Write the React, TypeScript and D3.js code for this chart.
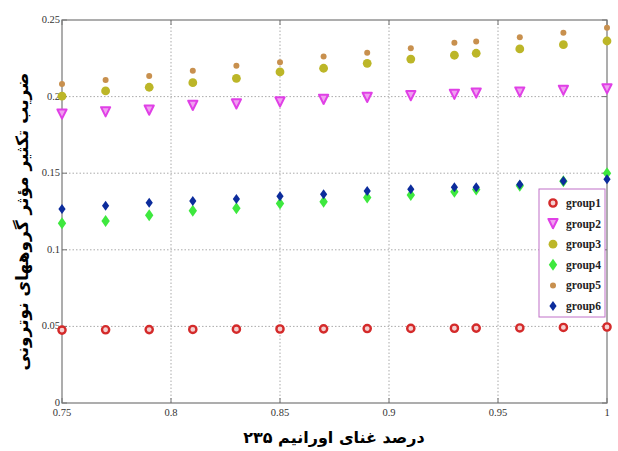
import React from "react";
import * as d3 from "d3";

const xValues = [0.75, 0.77, 0.79, 0.81, 0.83, 0.85, 0.87, 0.89, 0.91, 0.93, 0.94, 0.96, 0.98, 1.0];
const group1 = [0.0476, 0.0478, 0.0479, 0.048, 0.0482, 0.0483, 0.0484, 0.0486, 0.0487, 0.0488, 0.0489, 0.049, 0.0493, 0.0496];
const group2 = [0.1886, 0.1901, 0.1912, 0.1943, 0.1952, 0.1965, 0.1982, 0.1995, 0.2006, 0.2015, 0.2023, 0.203, 0.2041, 0.2051];
const group3 = [0.2003, 0.2037, 0.2061, 0.2091, 0.2119, 0.2161, 0.2185, 0.2217, 0.2245, 0.227, 0.2283, 0.2311, 0.2339, 0.2363];
const group4 = [0.1173, 0.1188, 0.1226, 0.1255, 0.1271, 0.1303, 0.1314, 0.1342, 0.1358, 0.1379, 0.1393, 0.1418, 0.1447, 0.1499];
const group5 = [0.2082, 0.2108, 0.2134, 0.2169, 0.2202, 0.2224, 0.2261, 0.2287, 0.2315, 0.2352, 0.2359, 0.2387, 0.2417, 0.245];
const group6 = [0.1266, 0.1288, 0.1307, 0.1318, 0.1331, 0.1349, 0.1362, 0.1384, 0.1395, 0.1408, 0.1408, 0.1427, 0.1449, 0.146];
const seriesNames = ["group1", "group2", "group3", "group4", "group5", "group6"];
const xTicks = [0.75, 0.8, 0.85, 0.9, 0.95, 1];
const yTicks = [0, 0.05, 0.1, 0.15, 0.2, 0.25];
const xTickLabels = ["0.75", "0.8", "0.85", "0.9", "0.95", "1"];
const yTickLabels = ["0", "0.05", "0.1", "0.15", "0.2", "0.25"];
const xTitle = "درصد غنای اورانیم ۲۳۵";
const yTitle = "ضریب تکثیر مؤثر گروههای نوترونی";

const W = 618, H = 451;
const left = 62, right = 607, top = 20, bottom = 403;

type Kind = "ring" | "tri" | "dot" | "diamond" | "small" | "sdiamond";
const styles: { kind: Kind; color: string }[] = [
  { kind: "ring", color: "#d42a2a" },
  { kind: "tri", color: "#e040e6" },
  { kind: "dot", color: "#bcb628" },
  { kind: "diamond", color: "#3ee83e" },
  { kind: "small", color: "#c8904e" },
  { kind: "sdiamond", color: "#0c2c9c" },
];

function Marker({ x, y, kind, color }: { x: number; y: number; kind: Kind; color: string }) {
  switch (kind) {
    case "ring":
      return <circle cx={x} cy={y} r={3.6} fill="#f4d0d0" stroke={color} strokeWidth={2.4} />;
    case "tri":
      return <path d={`M${x - 4.6},${y - 4.6} L${x + 4.6},${y - 4.6} L${x},${y + 4.6} Z`} fill="#f0a0f0" stroke={color} strokeWidth={2} strokeLinejoin="round" />;
    case "dot":
      return <circle cx={x} cy={y} r={4.4} fill={color} />;
    case "diamond":
      return <path d={`M${x},${y - 6} L${x + 4.2},${y} L${x},${y + 6} L${x - 4.2},${y} Z`} fill={color} />;
    case "small":
      return <circle cx={x} cy={y} r={3} fill={color} />;
    case "sdiamond":
      return <path d={`M${x},${y - 5} L${x + 3.6},${y} L${x},${y + 5} L${x - 3.6},${y} Z`} fill={color} />;
  }
}

export default function App() {
  const x = d3.scaleLinear().domain([0.75, 1]).range([left, right]);
  const y = d3.scaleLinear().domain([0, 0.25]).range([bottom, top]);
  const data = [group1, group2, group3, group4, group5, group6];
  const drawOrder = [0, 1, 3, 5, 2, 4];
  const legX = 539, legY = 189, legW = 66, legH = 128;
  return (
    <svg width={W} height={H} style={{ position: "absolute", left: 0, top: 0, background: "#fff" }}>
      <rect x={0} y={0} width={W} height={H} fill="#fff" />
      {xTicks.map((t, i) =>
        i > 0 && i < xTicks.length - 1 ? (
          <line key={"gx" + i} x1={x(t)} x2={x(t)} y1={top} y2={bottom} stroke="#aaa" strokeWidth={1} strokeDasharray="1.5,2" />
        ) : null
      )}
      {yTicks.map((t, i) =>
        i > 0 && i < yTicks.length - 1 ? (
          <line key={"gy" + i} x1={left} x2={right} y1={y(t)} y2={y(t)} stroke="#aaa" strokeWidth={1} strokeDasharray="1.5,2" />
        ) : null
      )}
      <rect x={left} y={top} width={right - left} height={bottom - top} fill="none" stroke="#777" strokeWidth={1.2} />
      {xTicks.map((t, i) => (
        <g key={"xt" + i}>
          <line x1={x(t)} x2={x(t)} y1={bottom} y2={bottom - 5} stroke="#777" />
          <line x1={x(t)} x2={x(t)} y1={top} y2={top + 5} stroke="#777" />
          <text x={x(t)} y={bottom + 13} textAnchor="middle" fontFamily="Liberation Serif, serif" fontSize={10.5} fill="#333">
            {xTickLabels[i]}
          </text>
        </g>
      ))}
      {yTicks.map((t, i) => (
        <g key={"yt" + i}>
          <line x1={left} x2={left + 5} y1={y(t)} y2={y(t)} stroke="#777" />
          <line x1={right} x2={right - 5} y1={y(t)} y2={y(t)} stroke="#777" />
          <text x={left - 2} y={y(t) + 3} textAnchor="end" fontFamily="Liberation Serif, serif" fontSize={10.5} fill="#333">
            {yTickLabels[i]}
          </text>
        </g>
      ))}
      {drawOrder.map((si) => (
        <g key={"s" + si}>
          {data[si].map((v, j) => (
            <Marker key={j} x={x(xValues[j])} y={y(v)} kind={styles[si].kind} color={styles[si].color} />
          ))}
        </g>
      ))}
      <rect x={legX} y={legY} width={legW} height={legH} fill="#fff" stroke="#c070c8" strokeWidth={1} />
      {seriesNames.map((n, i) => {
        const ly = legY + 14 + i * 20.6;
        return (
          <g key={"l" + i}>
            <Marker x={legX + 14} y={ly} kind={styles[i].kind} color={styles[i].color} />
            <text x={legX + 27} y={ly + 4} fontFamily="Liberation Serif, serif" fontWeight="bold" fontSize={11.5} fill="#222">
              {n}
            </text>
          </g>
        );
      })}
      <text x={334} y={443} textAnchor="middle" fontFamily="DejaVu Sans, sans-serif" fontWeight="bold" fontSize={16} fill="#000" direction="rtl">
        {xTitle}
      </text>
      <text transform={`translate(28,${(top + bottom) / 2 + 10}) rotate(-90)`} textAnchor="middle" fontFamily="DejaVu Sans, sans-serif" fontWeight="bold" fontSize={17} fill="#000" direction="rtl">
        {yTitle}
      </text>
    </svg>
  );
}
